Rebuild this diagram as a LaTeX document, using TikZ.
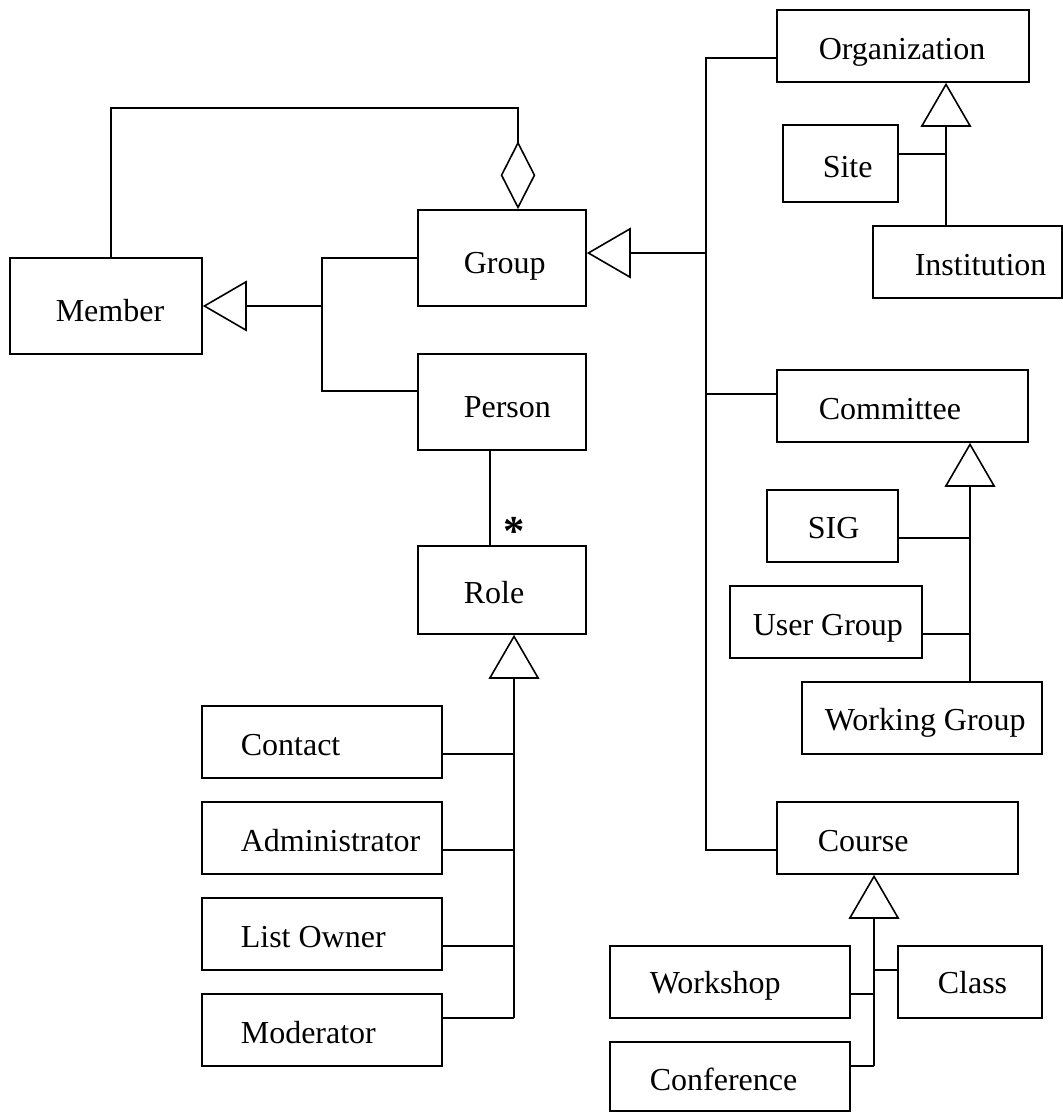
\documentclass[tikz,border=0pt]{standalone}
\usepackage{fontspec}
\setmainfont{Liberation Serif}
\usetikzlibrary{arrows.meta,fit,calc}
\begin{document}
\begin{tikzpicture}[x=0.75pt,y=-0.75pt,line width=1.2pt,
  cls/.style={draw, rectangle, inner sep=0pt, line width=1.2pt},
  lbl/.style={anchor=base west, inner sep=0pt, font=\fontsize{24pt}{28pt}\selectfont},
  gen/.style={-{Triangle[open,length=33pt,width=38pt]}},
  agg/.style={-{Diamond[open,length=51pt,width=26pt]}},
  mult/.style={anchor=base, inner sep=0pt, font=\fontsize{32pt}{32pt}\selectfont\bfseries}]
\useasboundingbox (0,0) rectangle (1063,1113);

% ---- classes ----
\node[cls, fit={(777,10) (1029,82)}] (org) {};
\node[lbl] (orgl) at (818,60) {Organization};
\node[cls, fit={(783,125) (898,202)}] (site) {};
\node[lbl] (sitel) at (822,177) {Site};
\node[cls, fit={(873,226) (1062,298)}] (inst) {};
\node[lbl] (instl) at (914,275) {Institution};

\node[cls, fit={(10,258) (202,354)}] (member) {};
\node[lbl] (memberl) at (55,321) {Member};
\node[cls, fit={(418,210) (586,306)}] (group) {};
\node[lbl] (groupl) at (463,273) {Group};
\node[cls, fit={(418,354) (586,450)}] (person) {};
\node[lbl] (personl) at (463,417) {Person};
\node[cls, fit={(418,546) (586,634)}] (role) {};
\node[lbl] (rolel) at (463,603) {Role};

\node[cls, fit={(202,706) (442,778)}] (contact) {};
\node[lbl] (contactl) at (240,755) {Contact};
\node[cls, fit={(202,802) (442,874)}] (admin) {};
\node[lbl] (adminl) at (240,851) {Administrator};
\node[cls, fit={(202,898) (442,970)}] (listowner) {};
\node[lbl] (listownerl) at (240,947) {List Owner};
\node[cls, fit={(202,994) (442,1066)}] (moderator) {};
\node[lbl] (moderatorl) at (240,1043) {Moderator};

\node[cls, fit={(777,370) (1028,442)}] (committee) {};
\node[lbl] (committeel) at (818,419) {Committee};
\node[cls, fit={(767,490) (898,562)}] (sig) {};
\node[lbl] (sigl) at (807,538) {SIG};
\node[cls, fit={(730,586) (922,658)}] (usergroup) {};
\node[lbl] (usergroupl) at (752,635) {User Group};
\node[cls, fit={(802,682) (1042,754)}] (workgroup) {};
\node[lbl] (workgroupl) at (824,730) {Working Group};

\node[cls, fit={(777,802) (1018,874)}] (course) {};
\node[lbl] (coursel) at (817,851) {Course};
\node[cls, fit={(610,946) (850,1018)}] (workshop) {};
\node[lbl] (workshopl) at (649,993) {Workshop};
\node[cls, fit={(898,946) (1042,1018)}] (class) {};
\node[lbl] (classl) at (937,993) {Class};
\node[cls, fit={(610,1042) (850,1111)}] (conference) {};
\node[lbl] (conferencel) at (649,1090) {Conference};

% ---- Organization hierarchy ----
\coordinate (oj) at (946,154);
\draw[gen] (inst.north -| oj) -- (org.south -| oj);
\draw (site.east |- oj) -- (oj);

% ---- main trunk of Group subclasses ----
\coordinate (tTop) at (706,58);
\coordinate (tBot) at (706,850);
\coordinate (tCom) at (706,394);
\coordinate (tGrp) at (706,253);
\draw (org.west |- tTop) -- (tTop) -- (tBot) -- (course.west |- tBot);
\draw (committee.west |- tCom) -- (tCom);
\draw[gen] (tGrp) -- (group.east |- tGrp);

% ---- Member generalization ----
\coordinate (mj) at (322,306);
\coordinate (mp) at (322,391);
\draw[gen] (mj) -- (member.east);
\draw (group.west) -- (group.west -| mj) -- (mp) -- (person.west |- mp);

% ---- aggregation Member -> Group ----
\coordinate (a1) at (111,108);
\coordinate (a2) at (518,108);
\draw[agg] (member.north -| a1) -- (a1) -- (a2) -- (group.north -| a2);

% ---- Person -- Role association ----
\coordinate (pr) at (490,500);
\draw (person.south -| pr) -- (role.north -| pr);
\node[mult] (rolemult) at (514,545) {*};

% ---- Role hierarchy ----
\coordinate (rc) at (514,754);
\coordinate (ra) at (514,850);
\coordinate (rl) at (514,946);
\coordinate (rj) at (514,1018);
\draw[gen] (rj) -- (role.south -| rj);
\draw (contact.east |- rc) -- (rc);
\draw (admin.east |- ra) -- (ra);
\draw (listowner.east |- rl) -- (rl);
\draw (moderator.east |- rj) -- (rj);

% ---- Committee hierarchy ----
\coordinate (cs) at (970,538);
\coordinate (cu) at (970,634);
\draw[gen] (workgroup.north -| cs) -- (committee.south -| cs);
\draw (sig.east |- cs) -- (cs);
\draw (usergroup.east |- cu) -- (cu);

% ---- Course hierarchy ----
\coordinate (kc) at (874,970);
\coordinate (kw) at (874,994);
\coordinate (kf) at (874,1066);
\draw[gen] (kf) -- (course.south -| kf);
\draw (class.west |- kc) -- (kc);
\draw (workshop.east |- kw) -- (kw);
\draw (conference.east |- kf) -- (kf);
\end{tikzpicture}
\end{document}
